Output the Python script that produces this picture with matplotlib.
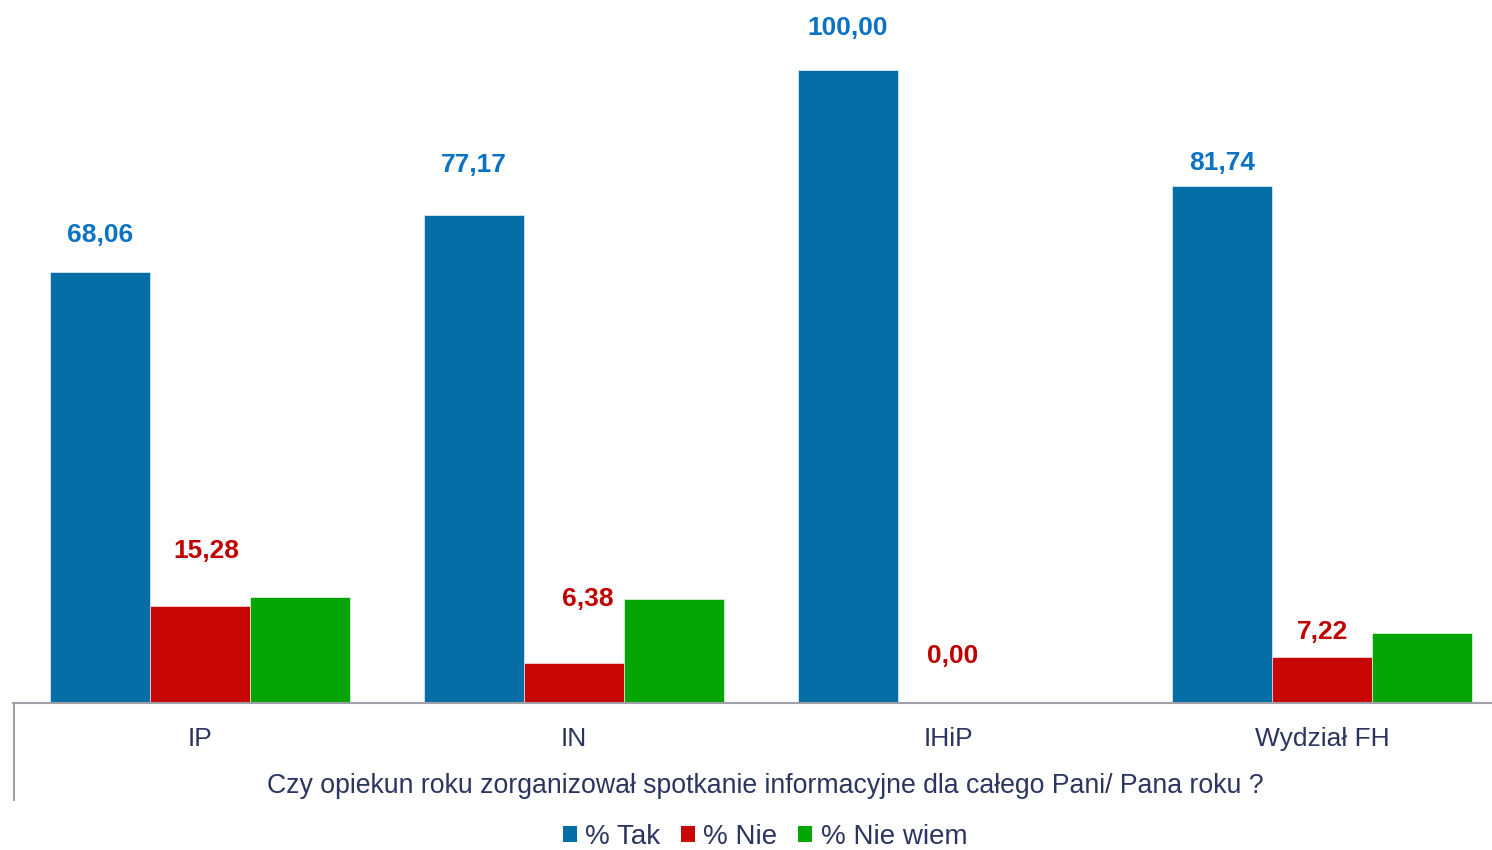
import matplotlib
matplotlib.use("Agg")
import matplotlib.pyplot as plt
from matplotlib.lines import Line2D
from matplotlib.patches import Patch
import numpy as np

plt.rcParams['font.family'] = ['Liberation Sans', 'DejaVu Sans']

categories = ["IP", "IN", "IHiP", "Wydział FH"]
series_names = ["% Tak", "% Nie", "% Nie wiem"]
tak = [68.06, 77.17, 100.00, 81.74]
nie = [15.28, 6.38, 0.00, 7.22]
nie_wiem = [16.67, 16.45, 0.00, 11.04]
axis_title = "Czy opiekun roku zorganizował spotkanie informacyjne dla całego Pani/ Pana roku ?"

colors = ["#066EA6", "#C80606", "#06A506"]
label_colors = ["#0C72C2", "#C00000"]
text_color = "#2B3560"

W, H = 1492, 850
fig = plt.figure(figsize=(W / 100, H / 100), dpi=100)
ax_left = 13 / W
ax_bottom = 1 - 703 / H
ax = fig.add_axes([ax_left, ax_bottom, 1496 / W, 703 / H])
ax.set_xlim(-0.5, 3.5)
ax.set_ylim(0, 100 + 70 / 6.33)

x = np.arange(len(categories))
bw = 100 / 374
data = [tak, nie, nie_wiem]
for i, vals in enumerate(data):
    ax.bar(x + (i - 1) * bw, vals, width=bw, color=colors[i],
           edgecolor="white", linewidth=0.4, zorder=2)

# label offsets in pixels above bar tops (as in reference layout)
blue_off = [37, 50, 42, 23]
red_off = [55, 64, 47, 25]
red_dx = [6, 14, 5, 0]
for j in range(len(categories)):
    ax.annotate(f"{tak[j]:.2f}".replace(".", ","), (x[j] - bw, tak[j]),
                xytext=(0, blue_off[j] * 0.72), textcoords="offset points",
                ha="center", va="center", fontsize=19, fontweight="bold",
                color=label_colors[0])
    ax.annotate(f"{nie[j]:.2f}".replace(".", ","), (x[j], nie[j]),
                xytext=(red_dx[j] * 0.72, red_off[j] * 0.72), textcoords="offset points",
                ha="center", va="center", fontsize=19, fontweight="bold",
                color=label_colors[1])

for s in ["top", "right", "left"]:
    ax.spines[s].set_visible(False)
ax.spines["bottom"].set_color("#A0A0A8")
ax.spines["bottom"].set_linewidth(1.5)
ax.set_yticks([])
ax.set_xticks(x)
ax.set_xticklabels(categories, fontsize=19, color=text_color)
ax.tick_params(axis="x", length=0, pad=17)

fig.text(765 / W, 1 - 786 / H, axis_title, ha="center", va="center",
         fontsize=19.2, color=text_color)
fig.add_artist(Line2D([14 / W, 14 / W], [1 - 703 / H, 1 - 800 / H],
                      color="#A0A0A8", linewidth=1.5))

handles = [Patch(facecolor=c, edgecolor="none") for c in colors]
leg = fig.legend(handles, series_names, loc="center", bbox_to_anchor=(765 / W, 1 - 837 / H),
                 ncol=3, frameon=False, fontsize=20, handlelength=0.5, handleheight=0.5,
                 handletextpad=0.3, columnspacing=0.75, labelcolor=text_color)

fig.savefig("out.png", dpi=100)
